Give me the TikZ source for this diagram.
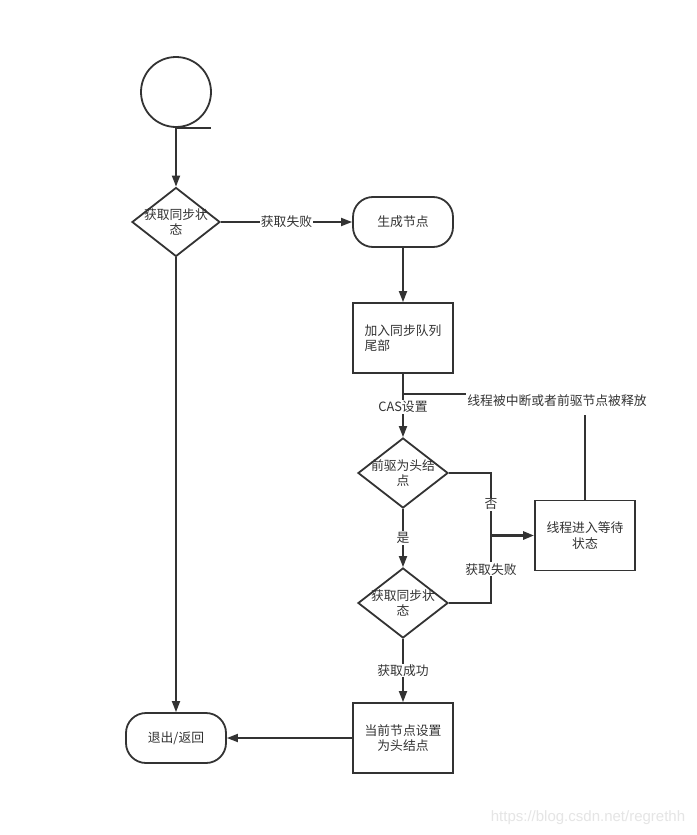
\documentclass[tikz,border=0pt]{standalone}
\usepackage{fontspec}
\setmainfont{Noto Sans CJK SC}
\newfontfamily\wmfont{Liberation Sans}
\usetikzlibrary{shapes.geometric,arrows.meta}
\definecolor{ln}{HTML}{333333}
\begin{document}
\begin{tikzpicture}[x=1pt,y=-1pt,
  every node/.style={font=\fontsize{12.8}{15.5}\selectfont, text=ln},
  base/.style={draw=ln, line width=1.8pt},
  rbox/.style={base, rectangle, minimum width=100pt, minimum height=70pt, align=center, inner sep=2pt},
  rounded/.style={base, rectangle, rounded corners=20pt, minimum width=100pt, minimum height=50pt, align=center},
  dia/.style={base, diamond, minimum width=88pt, minimum height=69pt, inner sep=0pt},
  conn/.style={draw=ln, line width=1.8pt},
  arr/.style={conn, -{Triangle[length=11pt,width=8pt]}},
  lbl/.style={fill=white, inner sep=1pt}
]
\useasboundingbox (0,0) rectangle (696,835);
\fill[white] (0,0) rectangle (696,835);

\node[base, circle, minimum size=70pt, inner sep=0pt] (start) at (176,92) {};
\coordinate (startb) at (176,128);
\coordinate (startr) at (211,128);
\node[dia] (d1) at (176,222) {};
\node[align=center] (d1t) at (d1) {获取同步状\\态};
\node[rounded] (gen) at (403,222) {生成节点};
\node[rbox, align=left] (join) at (403,338) {加入同步队列\\尾部};
\node[dia, minimum width=90pt, minimum height=70pt] (d2) at (403,473) {};
\node[align=center] (d2t) at (d2) {前驱为头结\\点};
\node[dia, minimum width=90pt, minimum height=70pt] (d3) at (403,603) {};
\node[align=center] (d3t) at (d3) {获取同步状\\态};
\node[rbox] (wait) at (585,535.5) {线程进入等待\\状态};
\node[rbox] (head) at (403,738) {当前节点设置\\为头结点};
\node[rounded] (exit) at (176,738) {退出/返回};

\draw[conn] (startb) -- (startr);
\draw[arr] (startb) -- (d1.north);
\draw[arr] (d1.east) -- node[lbl] {获取失败} (gen.west);
\draw[arr] (gen.south) -- (join.north);
\draw[arr] (join.south) -- node[lbl, pos=0.52] {CAS设置} (d2.north);
\coordinate (c1) at (585,394);
\coordinate (c2) at (403,394);
\draw[conn] (wait.north) -- (c1) -- (c2);
\node[lbl, inner ysep=8pt, inner xsep=1pt] (intl) at (557,401) {线程被中断或者前驱节点被释放};
\coordinate (j1) at (491,473);
\coordinate (j2) at (491,603);
\coordinate (j3) at (491,535.5);
\draw[conn] (d2.east) -- (j1) -- node[lbl, pos=0.5] {否} (j3);
\draw[conn] (d3.east) -- (j2) -- node[lbl, pos=0.5] {获取失败} (j3);
\draw[arr, line width=2.6pt] (j3) -- (wait.west);
\draw[arr] (d2.south) -- node[lbl] {是} (d3.north);
\draw[arr] (d3.south) -- node[lbl] {获取成功} (head.north);
\draw[arr] (head.west) -- (exit.east);
\draw[arr] (d1.south) -- (exit.north);

\node[text=black!10, font=\fontsize{15}{17}\selectfont\wmfont] (wm) at (588,818) {https://blog.csdn.net/regrethh};
\end{tikzpicture}
\end{document}
